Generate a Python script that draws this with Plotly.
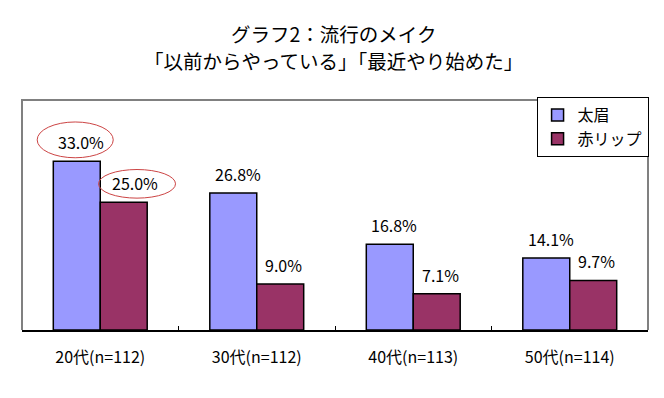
import plotly.graph_objects as go

categories = ["20代(n=112)", "30代(n=112)", "40代(n=113)", "50代(n=114)"]
futomayu = [33.0, 26.8, 16.8, 14.1]
aka_lip = [25.0, 9.0, 7.1, 9.7]
series_names = ["太眉", "赤リップ"]
colors = ["#9999FF", "#993366"]
title_lines = ["グラフ2：流行のメイク", "「以前からやっている」「最近やり始めた」"]

FONT = "Noto Sans CJK JP, Noto Sans, sans-serif"
BAR_PX = 46  # approx bar width in px for label shift

fig = go.Figure()
for name, vals, col in zip(series_names, [futomayu, aka_lip], colors):
    fig.add_trace(go.Bar(
        x=categories, y=vals, name=name,
        marker=dict(color=col, line=dict(color="#000000", width=1.5)),
    ))

# value labels as annotations a bit above bar tops
for si, (vals, sh) in enumerate([(futomayu, -BAR_PX / 2), (aka_lip, BAR_PX / 2)]):
    for ci, (c, v) in enumerate(zip(categories, vals)):
        extra = 8 if (si == 1 and ci == 0) else 0
        fig.add_annotation(x=c, y=v, xref="x", yref="y", text=f"{v:.1f}%",
                           showarrow=False, xshift=sh + 4 + extra, yshift=5,
                           yanchor="bottom", xanchor="center",
                           font=dict(size=16, color="#000000", family=FONT))

# title as two lines
for txt, yy in zip(title_lines, [1.291, 1.17]):
    fig.add_annotation(x=0.497, y=yy, xref="paper", yref="paper", text=txt,
                       showarrow=False, xanchor="center", yanchor="middle",
                       font=dict(size=19.5, color="#000000", family=FONT))

# red ellipses around the first group's labels
for vals, cx, h0, h1, hw in [(futomayu, -0.16, 0.7, 7.7, 0.243), (aka_lip, 0.235, 0.8, 6.4, 0.246)]:
    v = vals[0]
    fig.add_shape(type="circle", xref="x", yref="y",
                  x0=cx - hw, x1=cx + hw, y0=v + h0, y1=v + h1,
                  line=dict(color="#CC4444", width=1))

fig.update_layout(
    width=664, height=398,
    margin=dict(l=22, r=16, t=100, b=68, autoexpand=False),
    paper_bgcolor="white", plot_bgcolor="white",
    barmode="group", bargap=0.4, bargroupgap=0,
    font=dict(family=FONT, color="#000000"),
    showlegend=True,
    legend=dict(x=0.822, y=1.013, xanchor="left", yanchor="top",
                bgcolor="white", bordercolor="#000000", borderwidth=1,
                font=dict(size=16, family=FONT), tracegroupgap=4,
                itemwidth=30),
    xaxis=dict(showline=True, linecolor="#000000", linewidth=1.5, mirror=False,
               ticks="inside", ticklen=4, tickcolor="#000000", tickson="boundaries",
               tickfont=dict(size=16, family=FONT), showgrid=False, automargin=False,
               ticklabelstandoff=12),
    yaxis=dict(range=[0, 45], visible=False, showgrid=False, fixedrange=True, automargin=False),
)
# gray frame for top/left/right of plot area
fig.add_shape(type="path", xref="paper", yref="paper",
              path="M 0 0 L 0 1 L 1 1 L 1 0",
              line=dict(color="#808080", width=2))

fig.write_html("out.html", config={"displayModeBar": False},
               post_script="document.body.style.margin='0';document.body.style.overflow='hidden';")
